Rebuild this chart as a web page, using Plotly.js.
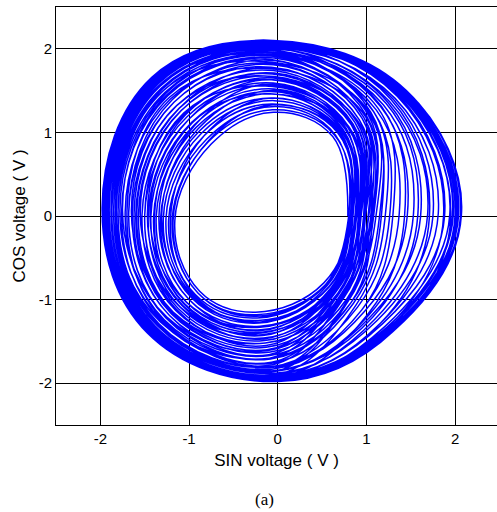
<!DOCTYPE html>
<html>
<head>
<meta charset="utf-8">
<script src="https://cdn.plot.ly/plotly-3.0.1.min.js"></script>
<style>html,body{margin:0;padding:0;background:#fff;}#chart{width:497px;height:512px;}</style>
</head>
<body>
<div id="chart"></div>
<script>
// Trajectory samples, 8 per turn (E, NE, N, NW, W, SW, S, SE)
var sinVoltage = [
 0.79, 0.62, -0.05, -0.75, -1.16, -0.88, -0.25, 0.52,
 0.82, 0.64, -0.06, -0.78, -1.19, -0.90, -0.24, 0.54,
 0.80, 0.65, -0.03, -0.80, -1.23, -0.93, -0.23, 0.55,
 0.84, 0.68, -0.07, -0.83, -1.26, -0.95, -0.22, 0.58,
 0.83, 0.69, -0.04, -0.86, -1.29, -0.97, -0.21, 0.58,
 0.87, 0.72, -0.06, -0.88, -1.32, -1.00, -0.20, 0.61,
 0.85, 0.73, -0.05, -0.92, -1.37, -1.03, -0.19, 0.62,
 0.89, 0.76, -0.08, -0.94, -1.40, -1.05, -0.18, 0.65,
 0.88, 0.76, -0.04, -0.97, -1.43, -1.07, -0.17, 0.66,
 0.92, 0.79, -0.06, -1.00, -1.46, -1.10, -0.16, 0.68,
 0.91, 0.80, -0.05, -1.02, -1.50, -1.12, -0.15, 0.69,
 0.94, 0.83, -0.07, -1.05, -1.53, -1.15, -0.14, 0.72,
 0.93, 0.84, -0.04, -1.09, -1.57, -1.18, -0.13, 0.73,
 0.97, 0.87, -0.06, -1.11, -1.60, -1.20, -0.12, 0.75,
 0.99, 0.89, -0.05, -1.14, -1.64, -1.22, -0.10, 0.78,
 1.02, 0.92, -0.07, -1.17, -1.68, -1.25, -0.09, 0.80,
 1.05, 0.95, -0.04, -1.21, -1.72, -1.28, -0.08, 0.83,
 1.07, 0.97, -0.06, -1.24, -1.76, -1.31, -0.07, 0.85,
 1.17, 1.03, -0.05, -1.27, -1.80, -1.34, -0.06, 0.90,
 1.26, 1.08, -0.07, -1.30, -1.83, -1.36, -0.05, 0.95,
 1.37, 1.11, -0.04, -1.29, -1.82, -1.35, -0.05, 0.98,
 1.46, 1.16, -0.06, -1.33, -1.87, -1.39, -0.04, 1.03,
 1.53, 1.19, -0.05, -1.31, -1.85, -1.38, -0.04, 1.05,
 1.61, 1.24, -0.07, -1.35, -1.90, -1.41, -0.03, 1.10,
 1.69, 1.26, -0.04, -1.34, -1.88, -1.40, -0.03, 1.12,
 1.75, 1.30, -0.06, -1.37, -1.92, -1.43, -0.02, 1.16,
 1.81, 1.32, -0.05, -1.36, -1.91, -1.42, -0.02, 1.18,
 1.88, 1.36, -0.07, -1.39, -1.94, -1.44, -0.01, 1.21,
 1.94, 1.37, -0.04, -1.37, -1.91, -1.42, -0.02, 1.23,
 1.97, 1.40, -0.06, -1.39, -1.95, -1.45, -0.01, 1.25,
 1.98, 1.40, -0.05, -1.38, -1.93, -1.43, -0.02, 1.25,
 2.01, 1.42, -0.07, -1.41, -1.96, -1.46, 0.00, 1.27,
 2.02, 1.41, -0.04, -1.39, -1.94, -1.44, -0.01, 1.27,
 2.03, 1.43, -0.06, -1.41, -1.97, -1.46, 0.00, 1.28,
 2.04, 1.43, -0.05, -1.40, -1.96, -1.45, -0.01, 1.28,
 2.06, 1.45, -0.06, -1.42, -1.98, -1.47, 0.00, 1.30,
 2.07, 1.44, -0.04, -1.41, -1.96, -1.46, 0.00, 1.29,
 2.00, 1.41, -0.05, -1.39, -1.95, -1.45, -0.01, 1.26,
 2.07, 1.45, -0.05, -1.42, -1.98, -1.47, 0.00, 1.30,
 1.95, 1.39, -0.06, -1.37, -1.92, -1.43, -0.02, 1.24,
 1.87, 1.35, -0.06, -1.39, -1.93, -1.43, -0.02, 1.16,
 1.71, 1.28, -0.05, -1.35, -1.88, -1.39, -0.04, 1.07,
 1.58, 1.22, -0.06, -1.37, -1.90, -1.42, -0.02, 1.02,
 1.43, 1.17, -0.04, -1.33, -1.85, -1.36, -0.06, 0.95,
 1.30, 1.13, -0.07, -1.34, -1.87, -1.40, -0.03, 0.88,
 1.21, 1.08, -0.05, -1.31, -1.83, -1.32, -0.09, 0.83,
 1.15, 1.05, -0.05, -1.30, -1.82, -1.34, -0.04, 0.80,
 1.11, 1.04, -0.06, -1.29, -1.80, -1.35, -0.05, 0.79,
 1.08, 1.00, -0.06, -1.26, -1.78, -1.30, -0.06, 0.74,
 1.07, 0.99, -0.06, -1.22, -1.70, -1.29, -0.07, 0.75,
 1.05, 1.02, -0.04, -1.25, -1.75, -1.25, -0.11, 0.74,
 1.03, 0.97, -0.04, -1.19, -1.68, -1.26, -0.09, 0.71,
 1.02, 0.90, -0.07, -1.14, -1.62, -1.22, -0.10, 0.69,
 0.99, 0.95, -0.05, -1.17, -1.65, -1.18, -0.14, 0.72,
 0.98, 0.92, -0.06, -1.11, -1.59, -1.19, -0.12, 0.68,
 0.97, 0.80, -0.06, -1.06, -1.50, -1.14, -0.13, 0.66,
 0.94, 0.87, -0.04, -1.09, -1.55, -1.10, -0.18, 0.64,
 0.93, 0.85, -0.05, -1.04, -1.47, -1.08, -0.16, 0.64,
 0.92, 0.79, -0.07, -0.96, -1.39, -1.06, -0.17, 0.61,
 0.89, 0.83, -0.05, -1.00, -1.44, -1.03, -0.20, 0.63,
 0.85, 0.77, -0.07, -0.94, -1.34, -1.00, -0.19, 0.60,
 0.87, 0.74, -0.04, -0.90, -1.31, -0.96, -0.22, 0.58,
 0.83, 0.70, -0.06, -0.83, -1.21, -0.94, -0.21, 0.56,
 0.82, 0.69, -0.05, -0.78, -1.18, -0.90, -0.24, 0.54,
 0.80
];
var cosVoltage = [
 0.00, 0.95, 1.24, 0.86, -0.05, -0.90, -1.15, -0.80,
 0.02, 0.97, 1.27, 0.89, -0.04, -0.92, -1.18, -0.82,
 -0.02, 0.97, 1.31, 0.92, -0.04, -0.94, -1.22, -0.82,
 0.01, 0.99, 1.34, 0.96, -0.03, -0.96, -1.25, -0.84,
 0.03, 1.00, 1.38, 0.99, -0.03, -0.98, -1.28, -0.85,
 -0.01, 1.01, 1.41, 1.02, -0.02, -1.00, -1.32, -0.87,
 0.02, 1.02, 1.46, 1.06, -0.01, -1.03, -1.36, -0.88,
 0.00, 1.04, 1.49, 1.09, -0.01, -1.05, -1.39, -0.90,
 0.03, 1.05, 1.52, 1.12, 0.00, -1.07, -1.42, -0.90,
 -0.02, 1.06, 1.56, 1.16, 0.01, -1.09, -1.46, -0.92,
 0.02, 1.07, 1.59, 1.19, 0.01, -1.11, -1.49, -0.93,
 0.00, 1.09, 1.63, 1.22, 0.02, -1.13, -1.52, -0.95,
 0.03, 1.10, 1.67, 1.26, 0.03, -1.15, -1.57, -0.95,
 -0.01, 1.12, 1.70, 1.29, 0.03, -1.17, -1.60, -0.97,
 0.02, 1.13, 1.74, 1.32, 0.04, -1.19, -1.63, -0.99,
 0.00, 1.15, 1.78, 1.36, 0.04, -1.22, -1.67, -1.01,
 0.02, 1.17, 1.82, 1.40, 0.05, -1.24, -1.71, -1.03,
 -0.01, 1.18, 1.87, 1.44, 0.06, -1.27, -1.76, -1.05,
 0.02, 1.22, 1.91, 1.48, 0.07, -1.29, -1.80, -1.09,
 -0.02, 1.25, 1.95, 1.52, 0.07, -1.31, -1.83, -1.12,
 0.03, 1.27, 1.93, 1.50, 0.07, -1.30, -1.81, -1.14,
 0.00, 1.31, 1.98, 1.55, 0.08, -1.33, -1.86, -1.18,
 0.02, 1.33, 1.96, 1.53, 0.08, -1.32, -1.85, -1.20,
 -0.01, 1.36, 2.01, 1.58, 0.09, -1.35, -1.90, -1.23,
 0.02, 1.37, 2.00, 1.56, 0.08, -1.34, -1.88, -1.25,
 0.00, 1.40, 2.04, 1.60, 0.09, -1.37, -1.92, -1.28,
 0.03, 1.41, 2.02, 1.59, 0.09, -1.36, -1.91, -1.29,
 -0.01, 1.44, 2.06, 1.62, 0.09, -1.38, -1.94, -1.32,
 0.02, 1.45, 2.03, 1.60, 0.09, -1.36, -1.91, -1.33,
 0.00, 1.46, 2.07, 1.63, 0.09, -1.38, -1.95, -1.34,
 0.02, 1.46, 2.05, 1.61, 0.09, -1.37, -1.93, -1.34,
 -0.01, 1.48, 2.08, 1.64, 0.10, -1.39, -1.96, -1.36,
 0.01, 1.48, 2.06, 1.62, 0.09, -1.38, -1.94, -1.35,
 0.00, 1.49, 2.09, 1.65, 0.10, -1.40, -1.97, -1.37,
 0.02, 1.49, 2.07, 1.64, 0.10, -1.39, -1.96, -1.37,
 -0.01, 1.50, 2.10, 1.66, 0.10, -1.40, -1.98, -1.38,
 0.01, 1.50, 2.08, 1.64, 0.10, -1.39, -1.96, -1.38,
 0.02, 1.47, 2.07, 1.63, 0.09, -1.38, -1.95, -1.35,
 0.00, 1.50, 2.10, 1.66, 0.10, -1.40, -1.98, -1.38,
 -0.02, 1.45, 2.04, 1.60, 0.09, -1.37, -1.92, -1.33,
 0.01, 1.43, 2.07, 1.62, 0.09, -1.37, -1.91, -1.28,
 -0.01, 1.39, 2.05, 1.58, 0.08, -1.33, -1.85, -1.21,
 0.02, 1.35, 1.98, 1.60, 0.09, -1.36, -1.93, -1.17,
 0.00, 1.31, 2.01, 1.55, 0.08, -1.31, -1.80, -1.12,
 0.03, 1.29, 1.93, 1.56, 0.08, -1.34, -1.90, -1.07,
 -0.02, 1.25, 1.96, 1.53, 0.07, -1.27, -1.70, -1.03,
 0.02, 1.24, 1.99, 1.52, 0.07, -1.29, -1.86, -1.01,
 0.02, 1.23, 1.84, 1.50, 0.07, -1.30, -1.83, -1.00,
 -0.01, 1.20, 1.93, 1.47, 0.06, -1.26, -1.78, -0.96,
 0.01, 1.19, 1.76, 1.42, 0.05, -1.25, -1.75, -0.97,
 -0.01, 1.21, 1.89, 1.45, 0.06, -1.21, -1.61, -0.96,
 0.03, 1.18, 1.86, 1.39, 0.05, -1.22, -1.70, -0.94,
 -0.02, 1.14, 1.67, 1.32, 0.03, -1.19, -1.66, -0.93,
 0.02, 1.17, 1.81, 1.36, 0.04, -1.15, -1.52, -0.95,
 0.01, 1.15, 1.77, 1.29, 0.03, -1.16, -1.60, -0.92,
 0.03, 1.07, 1.55, 1.23, 0.01, -1.12, -1.55, -0.90,
 0.00, 1.12, 1.71, 1.26, 0.02, -1.09, -1.40, -0.89,
 -0.02, 1.10, 1.65, 1.21, 0.01, -1.07, -1.47, -0.89,
 0.02, 1.06, 1.46, 1.12, -0.01, -1.05, -1.43, -0.87,
 -0.01, 1.09, 1.63, 1.16, 0.00, -1.03, -1.33, -0.88,
 0.02, 1.05, 1.58, 1.08, -0.02, -1.00, -1.37, -0.86,
 -0.02, 1.03, 1.50, 1.04, -0.02, -0.97, -1.25, -0.85,
 0.01, 1.01, 1.41, 0.96, -0.04, -0.95, -1.27, -0.83,
 0.00, 0.99, 1.33, 0.90, -0.05, -0.92, -1.20, -0.82,
 0.00
];
var tickValues = [-2, -1, 0, 1, 2];
var tickLabels = ['-2', '-1', '0', '1', '2'];
var xTitle = 'SIN voltage ( V )';
var yTitle = 'COS voltage ( V )';
var caption = '(a)';

var axisFont = {family: 'Liberation Sans, Arial, sans-serif', size: 15, color: '#000'};
var titleFont = {family: 'Liberation Sans, Arial, sans-serif', size: 17, color: '#000'};

var trace = {
  x: sinVoltage, y: cosVoltage, type: 'scatter', mode: 'lines',
  line: {color: '#0000ff', width: 1.5, shape: 'spline', smoothing: 1.13},
  hoverinfo: 'none', showlegend: false
};

var layout = {
  width: 497, height: 512,
  margin: {l: 56, r: 0, t: 7, b: 87, pad: 0},
  paper_bgcolor: '#fff', plot_bgcolor: '#fff',
  showlegend: false,
  xaxis: {
    range: [-2.5, 2.472], tickmode: 'array', tickvals: tickValues, ticktext: tickLabels,
    showgrid: true, gridcolor: '#000', gridwidth: 1, zeroline: false,
    showline: true, linecolor: '#000', linewidth: 1, mirror: true,
    ticks: 'inside', ticklen: 5, tickcolor: '#000', tickfont: axisFont,
    title: {text: xTitle, font: titleFont, standoff: 8}
  },
  yaxis: {
    range: [-2.5, 2.5], tickmode: 'array', tickvals: tickValues, ticktext: tickLabels,
    showgrid: true, gridcolor: '#000', gridwidth: 1, zeroline: false,
    showline: true, linecolor: '#000', linewidth: 1, mirror: false,
    ticks: 'inside', ticklen: 5, tickcolor: '#000', tickfont: axisFont,
    title: {text: yTitle, font: titleFont, standoff: 8}
  },
  annotations: [{
    text: caption, xref: 'paper', yref: 'paper', x: 0.4717, y: -0.179,
    xanchor: 'center', yanchor: 'middle', showarrow: false,
    font: {family: 'Liberation Serif, Times New Roman, serif', size: 17, color: '#000'}
  }]
};

Plotly.newPlot('chart', [trace], layout, {staticPlot: true, displayModeBar: false});
</script>
</body>
</html>
